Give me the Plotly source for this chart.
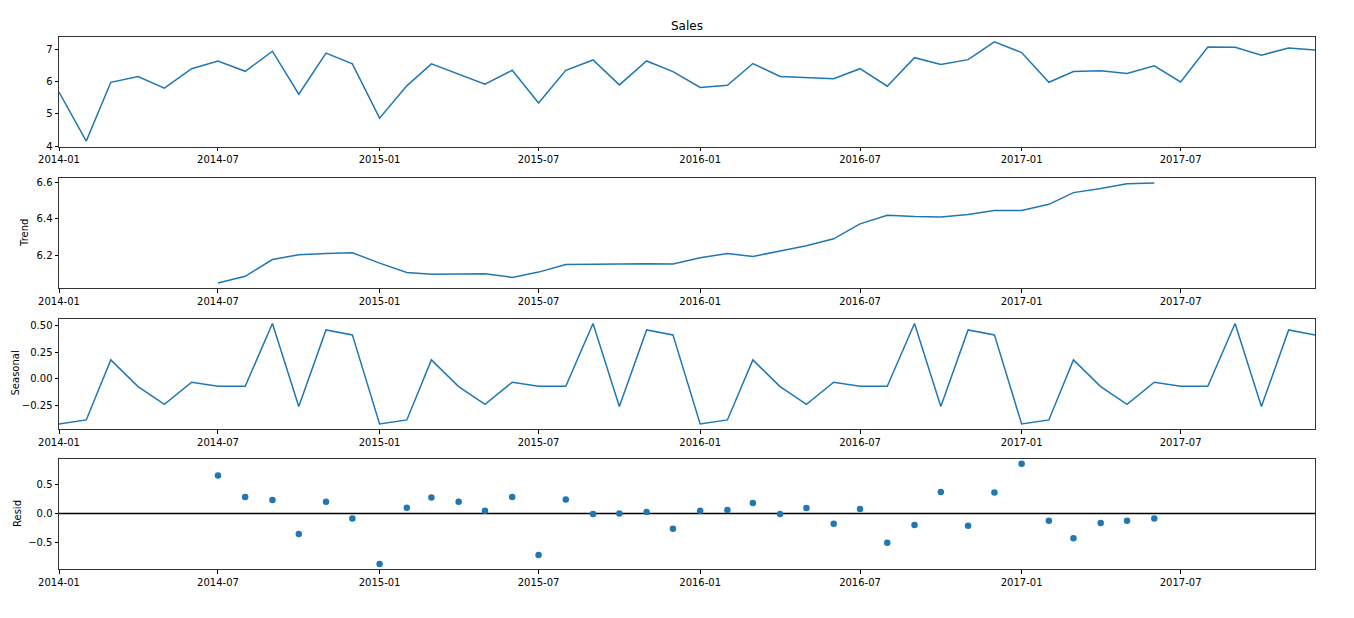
import plotly.graph_objects as go
import pandas as pd

months = pd.date_range("2014-01-01", "2017-12-01", freq="MS").strftime("%Y-%m-%d").tolist()

sales = [5.68, 4.16, 5.98, 6.16, 5.80, 6.40, 6.64, 6.32, 6.94, 5.61, 6.88, 6.55,
         4.87, 5.87, 6.55, 6.24, 5.92, 6.35, 5.34, 6.35, 6.67, 5.90, 6.64, 6.31,
         5.82, 5.89, 6.56, 6.16, 6.13, 6.09, 6.40, 5.86, 6.74, 6.53, 6.68, 7.23,
         6.90, 5.98, 6.31, 6.34, 6.25, 6.49, 5.99, 7.07, 7.06, 6.82, 7.04, 6.98]

trend = [None] * 6 + [
    6.047, 6.084, 6.176, 6.202, 6.209, 6.213,
    6.156, 6.105, 6.095, 6.096, 6.098, 6.078, 6.107, 6.149, 6.151, 6.149, 6.153, 6.151,
    6.185, 6.209, 6.193, 6.222, 6.251, 6.289, 6.371, 6.418, 6.411, 6.409, 6.422, 6.444,
    6.444, 6.478, 6.542, 6.565, 6.591, 6.595] + [None] * 6

seasonal_cycle = [-0.422, -0.384, 0.178, -0.072, -0.238, -0.031,
                  -0.069, -0.069, 0.519, -0.259, 0.459, 0.4125]
seasonal = seasonal_cycle * 4

resid = [None] * 6 + [
    0.655, 0.282, 0.230, -0.356, 0.201, -0.086,
    -0.874, 0.098, 0.276, 0.201, 0.046, 0.282, -0.718, 0.241, -0.011, 0.000, 0.023, -0.264,
    0.046, 0.057, 0.178, -0.011, 0.092, -0.178, 0.075, -0.506, -0.201, 0.368, -0.213, 0.362,
    0.856, -0.126, -0.431, -0.167, -0.126, -0.086] + [None] * 6

x_tickvals = ["2014-01-01", "2014-07-01", "2015-01-01", "2015-07-01",
              "2016-01-01", "2016-07-01", "2017-01-01", "2017-07-01"]
x_ticktext = ["2014-01", "2014-07", "2015-01", "2015-07",
              "2016-01", "2016-07", "2017-01", "2017-07"]

y1_ticks = [4, 5, 6, 7]
y1_text = ["4", "5", "6", "7"]
y2_ticks = [6.2, 6.4, 6.6]
y2_text = ["6.2", "6.4", "6.6"]
y3_ticks = [-0.25, 0.0, 0.25, 0.5]
y3_text = ["\u22120.25", "0.00", "0.25", "0.50"]
y4_ticks = [-0.5, 0.0, 0.5]
y4_text = ["\u22120.5", "0.0", "0.5"]

OFF = 8  # page body margin
W, H = 1354 - OFF, 618 - OFF
BLUE = "#1f77b4"
FONT = "DejaVu Sans"


def px(x):
    return (x - OFF) / W


def py(y):
    return 1 - (y - OFF) / H


fig = go.Figure()

fig.add_trace(go.Scatter(x=months, y=sales, mode="lines",
                         line=dict(color=BLUE, width=1.5), xaxis="x", yaxis="y"))
fig.add_trace(go.Scatter(x=months, y=trend, mode="lines",
                         line=dict(color=BLUE, width=1.5), xaxis="x2", yaxis="y2"))
fig.add_trace(go.Scatter(x=months, y=seasonal, mode="lines",
                         line=dict(color=BLUE, width=1.5), xaxis="x3", yaxis="y3"))
fig.add_trace(go.Scatter(x=[months[0], months[-1]], y=[0, 0], mode="lines",
                         line=dict(color="#000000", width=1.5), xaxis="x4", yaxis="y4"))
fig.add_trace(go.Scatter(x=months, y=resid, mode="markers",
                         marker=dict(color=BLUE, size=6.5, line=dict(width=0)),
                         xaxis="x4", yaxis="y4"))

xdom = [px(59), px(1315)]
panels = [(37, 146.5), (178, 288), (318.5, 429), (459, 569)]
yranges = [[3.995, 7.38], [6.020, 6.622], [-0.469, 0.566], [-0.96, 0.94]]
yt = [(y1_ticks, y1_text), (y2_ticks, y2_text), (y3_ticks, y3_text), (y4_ticks, y4_text)]

axis_common = dict(showline=True, mirror=True, linecolor="#333333", linewidth=1,
                   ticks="outside", ticklen=3.5, tickwidth=0.8, tickcolor="#000000",
                   showgrid=False, zeroline=False, automargin=False,
                   tickfont=dict(family=FONT, size=10, color="#000000"))

layout = dict(width=W, height=H, autosize=False,
              margin=dict(l=0, r=0, t=0, b=0, pad=0),
              paper_bgcolor="white", plot_bgcolor="white",
              showlegend=False)

for i, ((top, bot), yr, (tv, tt)) in enumerate(zip(panels, yranges, yt)):
    sfx = "" if i == 0 else str(i + 1)
    layout["xaxis" + sfx] = dict(axis_common, domain=xdom, anchor="y" + sfx,
                                 type="date", range=[months[0], months[-1]],
                                 tickvals=x_tickvals, ticktext=x_ticktext)
    layout["yaxis" + sfx] = dict(axis_common, domain=[py(bot), py(top)],
                                 anchor="x" + sfx, range=yr,
                                 tickvals=tv, ticktext=tt)

fig.update_layout(**layout)

ann_font = dict(family=FONT, size=10, color="#000000")
annotations = [
    dict(text="Sales", x=px(687), y=py(26), xref="paper", yref="paper",
         showarrow=False, font=dict(family=FONT, size=12, color="#000000"),
         xanchor="center", yanchor="middle"),
    dict(text="Trend", x=px(24), y=py(233), xref="paper", yref="paper",
         showarrow=False, font=ann_font, textangle=-90,
         xanchor="center", yanchor="middle"),
    dict(text="Seasonal", x=px(15), y=py(373.5), xref="paper", yref="paper",
         showarrow=False, font=ann_font, textangle=-90,
         xanchor="center", yanchor="middle"),
    dict(text="Resid", x=px(17), y=py(514), xref="paper", yref="paper",
         showarrow=False, font=ann_font, textangle=-90,
         xanchor="center", yanchor="middle"),
]
fig.update_layout(annotations=annotations)

fig.write_html("out.html", config={"displayModeBar": False})
